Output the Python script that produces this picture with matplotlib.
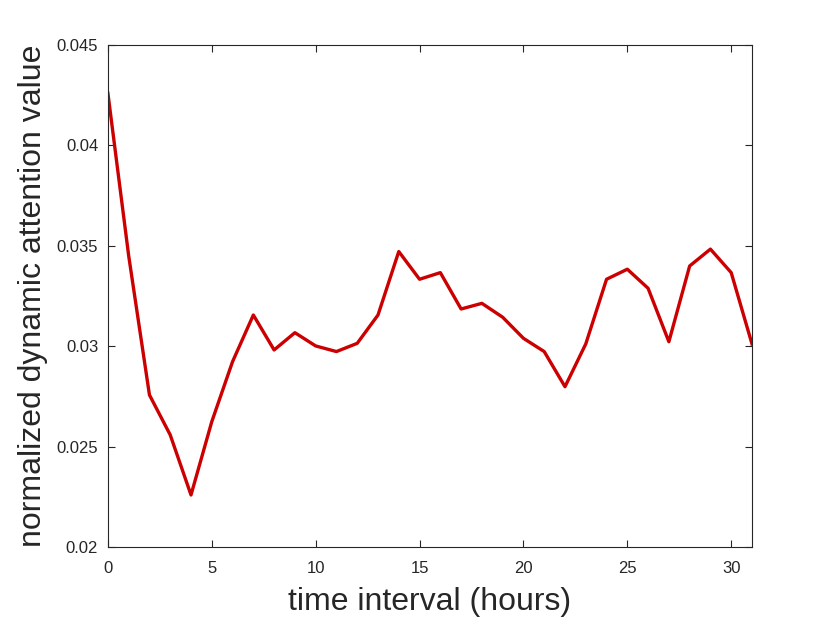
import numpy as np
import matplotlib.pyplot as plt

plt.rcParams['font.family'] = ['Liberation Sans', 'DejaVu Sans']

hours = list(range(32))
attention = [0.04259, 0.03450, 0.02757, 0.02558, 0.02259, 0.02624, 0.02923, 0.03155,
             0.02981, 0.03067, 0.03001, 0.02973, 0.03014, 0.03155, 0.03471, 0.03333,
             0.03366, 0.03185, 0.03213, 0.03144, 0.03039, 0.02973, 0.02798, 0.03011,
             0.03333, 0.03383, 0.03288, 0.03022, 0.03399, 0.03483, 0.03366, 0.03011]

xticks = [0, 5, 10, 15, 20, 25, 30]
yticks = [0.02, 0.025, 0.03, 0.035, 0.04, 0.045]
ytick_labels = ['0.02', '0.025', '0.03', '0.035', '0.04', '0.045']

fig = plt.figure(figsize=(8.3, 6.23), dpi=100)
ax = fig.add_axes([0.130, 0.122, 0.776, 0.806])

ax.plot(hours, attention, color='#CC0000', linewidth=2.4)

ax.set_xlim(0, 31)
ax.set_ylim(0.02, 0.045)
ax.set_xticks(xticks)
ax.set_yticks(yticks)
ax.set_yticklabels(ytick_labels)

axis_color = '#262626'
for sp in ax.spines.values():
    sp.set_color(axis_color)
    sp.set_linewidth(0.8)
ax.tick_params(direction='in', top=True, right=True, length=5, width=0.8,
               colors=axis_color, labelsize=12)
ax.tick_params(axis='x', pad=10)
ax.tick_params(axis='y', pad=7)

ax.set_xlabel('time interval (hours)', fontsize=23, color=axis_color, labelpad=8)
ax.set_ylabel('normalized dynamic attention value', fontsize=23, color=axis_color, labelpad=6)

fig.savefig('out.png', dpi=100)
